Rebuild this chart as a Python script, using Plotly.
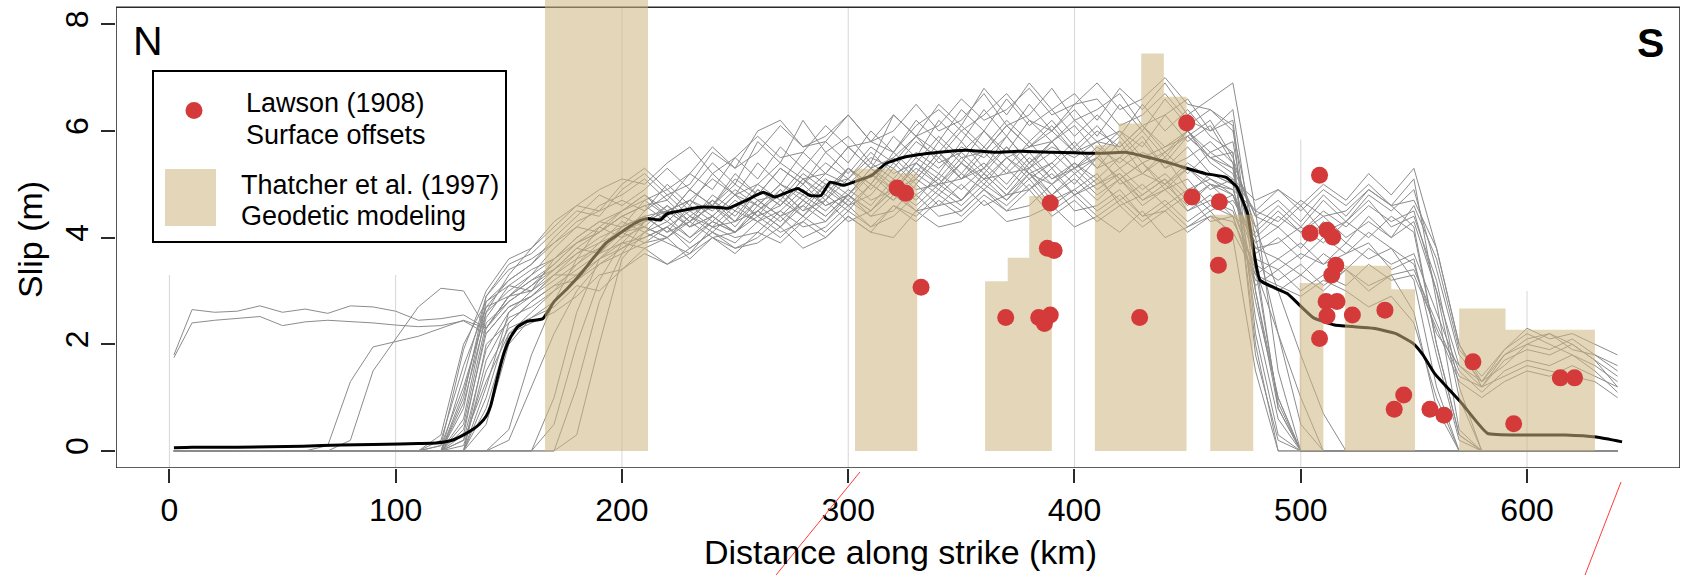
import plotly.graph_objects as go

# ---------------- data ----------------
XS = [2, 10, 20, 30, 40, 50, 60, 70, 80, 90, 100, 110, 120,
      130, 140, 150, 160, 170, 180, 190, 200, 210, 220, 230, 240, 250,
      260, 270, 280, 290, 300, 310, 320, 330, 340, 350, 360, 370, 380,
      390, 400, 410, 420, 430, 440, 450, 460, 470, 480, 490, 500, 510,
      520, 530, 540, 550, 560, 570, 580, 590, 600, 610, 620, 630, 640]

LINE_01 = [1.8, 2.65, 2.6, 2.62, 2.72, 2.6, 2.66, 2.58, 2.72, 2.7, 2.62, 2.45, 2.48,
           2.55, 2.3, 2.9, 3.2, 3.5, 3.9, 4.1, 4.4, 4.6, 4.3, 4.7, 4.5, 4.9,
           4.6, 5.0, 4.8, 5.2, 5.0, 5.4, 5.1, 5.6, 5.3, 5.7, 5.5, 5.9, 5.4,
           5.7, 5.5, 5.8, 5.3, 5.6, 5.4, 5.9, 5.5, 5.2, 3.8, 3.9, 4.2, 3.9,
           4.3, 4.0, 4.4, 4.1, 2.0, 0.3, 0, 0, 0, 0, 0, 0, 0]
LINE_02 = [1.75, 2.4, 2.45, 2.48, 2.52, 2.35, 2.42, 2.45, 2.43, 2.4, 2.36, 2.33, 2.35,
           2.44, 2.2, 2.7, 2.9, 3.3, 3.6, 3.8, 4.1, 4.2, 4.0, 4.4, 4.2, 4.6,
           4.3, 4.5, 4.9, 4.6, 4.8, 5.2, 4.9, 5.3, 5.0, 5.4, 5.1, 5.5, 5.2,
           5.0, 5.4, 5.1, 5.5, 5.2, 5.0, 5.4, 5.1, 4.8, 3.6, 3.4, 3.7, 3.5,
           3.9, 3.6, 3.8, 3.5, 2.2, 1.6, 1.3, 1.8, 2.0, 1.9, 2.1, 1.8, 1.5]
LINE_03 = [0, 0, 0, 0, 0, 0, 0, 0.1, 1.3, 1.95, 2.05, 2.15, 2.3,
           2.45, 2.3, 2.9, 3.3, 3.6, 3.9, 4.2, 4.0, 4.5, 4.8, 4.4, 4.7, 4.3,
           4.9, 4.6, 5.1, 4.7, 5.3, 5.0, 5.6, 5.2, 5.8, 5.4, 6.0, 5.6, 6.2,
           5.8, 6.1, 5.6, 6.0, 5.7, 6.3, 5.8, 6.1, 5.4, 2.5, 0.6, 0, 0,
           0, 0, 0, 0, 0, 0, 0, 0, 0, 0, 0, 0, 0]
LINE_04 = [0, 0, 0, 0, 0, 0, 0, 0, 0.2, 1.5, 2.1, 2.7, 3.05,
           3.0, 2.3, 2.8, 3.1, 3.4, 3.7, 3.9, 4.3, 4.1, 4.5, 4.2, 4.4, 4.1,
           4.5, 4.8, 4.4, 4.9, 4.6, 5.0, 4.7, 5.1, 4.8, 5.2, 4.9, 5.3, 4.9,
           5.2, 4.8, 5.1, 4.7, 5.0, 4.6, 4.9, 4.5, 4.7, 4.0, 4.4, 4.1, 4.5,
           4.2, 4.6, 4.3, 4.5, 3.0, 1.6, 1.2, 1.7, 1.9, 1.8, 2.0, 1.7, 1.2]
LINE_05 = [0, 0, 0, 0, 0, 0, 0, 0, 0, 0, 0, 0, 0.1,
           1.2, 2.6, 3.0, 3.3, 3.8, 4.2, 4.6, 4.8, 5.1, 4.7, 5.2, 4.9, 5.5,
           5.1, 5.7, 5.3, 5.8, 5.4, 6.0, 5.6, 6.2, 5.8, 6.4, 6.0, 6.6, 6.1,
           6.4, 5.9, 6.3, 5.9, 6.5, 6.0, 6.4, 5.9, 5.6, 1.8, 0.2, 0, 0,
           0, 0, 0, 0, 0, 0, 0, 0, 0, 0, 0, 0, 0]
LINE_06 = [0, 0, 0, 0, 0, 0, 0, 0, 0, 0, 0, 0, 0,
           0.4, 2.2, 2.7, 2.9, 3.2, 3.5, 3.9, 4.1, 4.3, 4.4, 4.0, 4.3, 4.1,
           4.5, 4.2, 4.6, 4.3, 4.7, 4.4, 4.8, 4.5, 4.9, 4.6, 5.0, 4.7, 5.1,
           4.6, 4.9, 4.5, 4.8, 4.4, 4.7, 4.3, 4.6, 4.4, 3.2, 3.0, 3.3, 3.0,
           3.4, 3.1, 3.3, 2.6, 0.8, 0, 0, 0, 0, 0, 0, 0, 0]
LINE_07 = [0, 0, 0, 0, 0, 0, 0, 0, 0, 0, 0, 0, 0,
           0.8, 2.8, 3.2, 3.5, 4.0, 4.4, 4.8, 4.6, 4.9, 5.3, 4.9, 5.4, 5.0,
           5.8, 5.4, 6.2, 5.6, 5.9, 5.4, 6.3, 5.9, 6.5, 6.1, 6.8, 6.3, 6.9,
           6.4, 6.7, 6.2, 6.8, 6.4, 6.9, 6.3, 6.6, 6.9, 4.5, 1.5, 0, 0,
           0, 0, 0, 0, 0, 0, 0, 0, 0, 0, 0, 0, 0]
LINE_08 = [0, 0, 0, 0, 0, 0, 0, 0, 0, 0, 0, 0, 0,
           0.2, 1.9, 2.6, 3.0, 3.3, 3.7, 4.0, 4.2, 4.4, 4.1, 4.6, 4.3, 4.7,
           4.4, 4.9, 4.5, 5.0, 4.7, 5.2, 4.8, 5.4, 5.1, 5.6, 5.2, 5.7, 5.3,
           5.6, 5.2, 5.5, 5.1, 5.4, 5.0, 5.3, 5.0, 4.8, 3.9, 4.2, 3.8, 4.3,
           3.9, 4.4, 4.0, 4.6, 3.6, 1.9, 1.4, 1.9, 2.2, 2.0, 1.8, 1.6, 1.3]
LINE_09 = [0, 0, 0, 0, 0, 0, 0, 0, 0, 0, 0, 0, 0,
           0, 1.0, 2.4, 2.8, 3.1, 3.4, 3.7, 3.9, 4.0, 4.2, 3.8, 4.1, 3.9,
           4.3, 4.0, 4.4, 4.1, 4.5, 4.2, 4.6, 4.4, 4.8, 4.5, 4.9, 4.6, 5.0,
           4.5, 4.8, 4.4, 4.7, 4.3, 4.6, 4.2, 4.5, 4.0, 1.5, 0, 0, 0,
           0, 0, 0, 0, 0, 0, 0, 0, 0, 0, 0, 0, 0]
LINE_10 = [0, 0, 0, 0, 0, 0, 0, 0, 0, 0, 0, 0, 0,
           0.9, 2.5, 3.1, 3.4, 3.6, 4.0, 4.3, 4.5, 4.7, 4.4, 4.9, 4.6, 5.1,
           4.8, 5.3, 5.0, 5.4, 5.1, 5.5, 5.3, 5.8, 5.5, 6.0, 5.6, 6.1, 5.7,
           6.0, 5.6, 6.0, 5.7, 6.1, 5.6, 5.9, 5.5, 5.3, 4.4, 4.7, 4.3, 4.8,
           4.4, 4.9, 4.6, 5.1, 2.8, 0.4, 0, 0, 0, 0, 0, 0, 0]
LINE_11 = [0, 0, 0, 0, 0, 0, 0, 0, 0, 0, 0, 0, 0.2,
           1.6, 2.7, 2.9, 3.2, 3.4, 3.8, 4.1, 4.4, 4.2, 4.6, 4.3, 4.8, 4.5,
           5.0, 4.7, 5.2, 4.9, 5.3, 4.9, 5.4, 5.0, 5.5, 5.1, 5.4, 5.0, 5.5,
           5.1, 5.4, 5.0, 5.3, 4.9, 5.2, 4.8, 5.2, 5.0, 2.8, 1.0, 0, 0,
           0, 0, 0, 0, 0, 0, 0, 0, 0, 0, 0, 0, 0]
LINE_12 = [0, 0, 0, 0, 0, 0, 0, 0, 0, 0, 0, 0, 0,
           0, 1.7, 2.5, 2.7, 3.0, 3.3, 3.6, 3.8, 4.0, 4.2, 3.9, 4.3, 4.1,
           4.5, 4.2, 4.7, 4.4, 4.8, 4.5, 5.0, 4.7, 5.2, 4.9, 5.3, 4.9, 5.4,
           5.0, 5.3, 4.9, 5.2, 4.8, 5.1, 4.7, 5.0, 4.6, 3.3, 3.6, 3.3, 3.7,
           3.4, 3.8, 3.5, 3.7, 2.6, 1.5, 1.1, 1.5, 1.7, 1.6, 1.8, 1.5, 1.1]
LINE_13 = [0, 0, 0, 0, 0, 0, 0, 0, 0, 0, 0, 0, 0,
           1.4, 2.9, 3.4, 3.6, 3.9, 4.3, 4.5, 4.7, 4.5, 5.0, 4.6, 5.2, 4.8,
           5.4, 5.0, 5.6, 5.2, 5.7, 5.3, 5.9, 5.5, 6.2, 5.8, 6.4, 5.9, 6.5,
           6.0, 6.4, 5.9, 6.5, 6.0, 6.6, 6.1, 6.4, 6.0, 4.0, 2.2, 0.5, 0,
           0, 0, 0, 0, 0, 0, 0, 0, 0, 0, 0, 0, 0]
LINE_14 = [0, 0, 0, 0, 0, 0, 0, 0, 0, 0, 0, 0, 0,
           0.5, 2.4, 2.8, 3.1, 3.5, 3.9, 4.1, 4.4, 4.6, 4.7, 4.3, 4.6, 4.2,
           4.7, 4.4, 4.8, 4.5, 4.9, 4.6, 5.1, 4.8, 5.1, 4.7, 5.2, 4.8, 5.3,
           4.8, 5.2, 4.8, 5.1, 4.7, 5.0, 4.6, 5.0, 4.9, 3.7, 4.0, 3.6, 4.0,
           3.7, 4.1, 3.8, 3.2, 1.2, 0, 0, 0, 0, 0, 0, 0, 0]
LINE_15 = [0, 0, 0, 0, 0, 0, 0, 0, 0, 0, 0, 0, 0,
           0, 0.8, 2.2, 2.6, 3.0, 3.5, 3.8, 4.2, 4.4, 4.5, 4.7, 4.4, 4.8,
           4.6, 5.0, 4.7, 5.1, 4.8, 5.3, 5.0, 5.5, 5.2, 5.8, 5.3, 5.9, 5.4,
           5.8, 5.3, 5.7, 5.4, 5.8, 5.3, 5.7, 5.2, 5.0, 4.2, 4.6, 4.2, 4.7,
           4.3, 4.8, 4.5, 4.9, 3.4, 1.8, 1.3, 1.6, 2.0, 2.2, 1.9, 1.8, 1.6]
LINE_16 = [0, 0, 0, 0, 0, 0, 0, 0, 0, 0, 0, 0, 0,
           0.1, 1.5, 2.3, 2.5, 2.8, 3.2, 3.5, 3.7, 3.9, 4.0, 3.6, 4.0, 3.7,
           4.1, 3.9, 4.3, 4.0, 4.4, 4.1, 4.6, 4.3, 4.7, 4.4, 4.8, 4.5, 4.9,
           4.4, 4.7, 4.3, 4.6, 4.2, 4.5, 4.1, 4.4, 4.3, 3.5, 3.2, 3.5, 3.1,
           3.4, 3.0, 3.3, 3.4, 2.4, 1.4, 1.2, 1.4, 1.6, 1.5, 1.4, 1.3, 1.0]
LINE_17 = [0, 0, 0, 0, 0, 0, 0, 0, 0, 0, 0, 0, 0,
           0, 0, 0, 0, 0.5, 2.0, 3.2, 3.9, 4.3, 4.6, 4.2, 4.7, 4.4,
           4.9, 4.6, 5.1, 4.8, 5.3, 5.0, 5.5, 5.1, 5.6, 5.2, 5.7, 5.3, 5.8,
           5.3, 5.7, 5.3, 5.8, 5.2, 5.6, 5.2, 5.6, 5.3, 3.0, 0.8, 0, 0,
           0, 0, 0, 0, 0, 0, 0, 0, 0, 0, 0, 0, 0]
LINE_18 = [0, 0, 0, 0, 0, 0, 0, 0, 0, 0, 0, 0, 0,
           0, 0, 0, 0, 0, 0.3, 2.0, 3.6, 4.1, 4.3, 4.0, 4.4, 4.1,
           4.6, 4.3, 4.7, 4.4, 4.8, 4.5, 4.9, 4.6, 5.0, 4.7, 5.1, 4.7, 5.2,
           4.8, 5.1, 4.7, 5.1, 4.6, 4.9, 4.5, 4.8, 4.4, 4.1, 4.5, 4.1, 4.4,
           4.0, 4.3, 4.0, 4.3, 3.0, 1.0, 0, 0, 0, 0, 0, 0, 0]
LINE_19 = [0, 0, 0, 0, 0, 0, 0, 0, 0, 0, 0, 0, 0,
           0, 0, 0.4, 1.8, 2.8, 3.6, 4.2, 4.5, 4.8, 4.4, 4.9, 4.6, 5.2,
           4.8, 5.3, 5.0, 5.6, 5.2, 5.7, 5.4, 5.9, 5.6, 6.1, 5.7, 6.2, 5.8,
           6.2, 5.7, 6.1, 5.6, 6.0, 5.5, 6.0, 5.6, 5.8, 3.4, 0.9, 0, 0,
           0, 0, 0, 0, 0, 0, 0, 0, 0, 0, 0, 0, 0]
LINE_20 = [0, 0, 0, 0, 0, 0, 0, 0, 0, 0, 0, 0, 0,
           0, 0, 0, 0, 1.0, 2.6, 3.6, 4.0, 4.2, 4.0, 4.4, 4.1, 4.5,
           4.3, 4.7, 4.4, 4.8, 4.5, 5.0, 4.7, 5.2, 4.9, 5.4, 5.0, 5.5, 5.1,
           5.4, 5.0, 5.5, 5.1, 5.4, 4.9, 5.3, 4.9, 5.1, 4.7, 4.9, 4.5, 4.9,
           4.6, 5.0, 4.6, 4.2, 2.0, 0.3, 0, 0, 0, 0, 0, 0, 0]
LINE_21 = [0, 0, 0, 0, 0, 0, 0, 0, 0, 0, 0, 0, 0,
           1.0, 2.9, 3.5, 3.7, 4.1, 4.5, 4.4, 4.9, 5.2, 4.8, 5.0, 5.6, 5.3,
           6.0, 6.2, 5.7, 5.9, 6.3, 5.8, 5.6, 6.1, 6.4, 6.0, 6.3, 6.7, 6.2,
           6.0, 6.5, 6.6, 6.1, 6.3, 6.7, 6.2, 6.0, 6.4, 3.6, 0.8, 0, 0,
           0, 0, 0, 0, 0, 0, 0, 0, 0, 0, 0, 0, 0]
LINE_22 = [0, 0, 0, 0, 0, 0, 0, 0, 0, 0, 0, 0, 0,
           0.2, 1.3, 2.2, 2.4, 2.6, 2.9, 3.3, 3.4, 3.8, 3.5, 3.7, 4.0, 3.8,
           3.9, 4.2, 3.8, 4.0, 4.4, 4.1, 4.0, 4.5, 4.2, 4.3, 4.7, 4.3, 4.4,
           4.6, 4.2, 4.4, 4.1, 4.5, 4.0, 4.2, 4.4, 4.1, 3.3, 3.1, 2.9, 3.2,
           3.0, 2.7, 2.9, 2.4, 1.0, 0, 0, 0, 0, 0, 0, 0, 0]
LINE_23 = [0, 0, 0, 0, 0, 0, 0, 0, 0, 0, 0, 0, 0.3,
           2.0, 2.8, 3.1, 3.0, 3.6, 4.0, 4.3, 4.2, 4.7, 4.9, 4.5, 4.6, 5.0,
           4.7, 4.8, 5.3, 5.0, 5.1, 5.6, 5.2, 5.4, 5.9, 5.5, 5.6, 6.1, 5.7,
           5.8, 6.2, 5.8, 5.7, 6.1, 5.7, 5.9, 6.2, 5.5, 4.2, 3.0, 1.8, 0.7,
           0, 0, 0, 0, 0, 0, 0, 0, 0, 0, 0, 0, 0]
LINE_24 = [0, 0, 0, 0, 0, 0, 0, 0, 0, 0, 0, 0, 0,
           0, 1.2, 2.6, 2.9, 3.3, 3.3, 3.7, 4.1, 3.9, 4.2, 4.5, 4.2, 4.3,
           4.7, 4.4, 4.6, 5.0, 4.6, 4.8, 5.3, 4.9, 5.0, 5.5, 5.1, 5.2, 5.6,
           5.1, 5.3, 5.6, 5.0, 5.2, 5.5, 4.9, 5.1, 4.9, 4.5, 4.3, 4.7, 4.4,
           4.5, 4.9, 4.6, 4.7, 3.8, 2.0, 1.2, 1.8, 2.1, 2.2, 2.0, 1.7, 1.4]
LINE_25 = [0, 0, 0, 0, 0, 0, 0, 0, 0, 0, 0, 0, 0,
           0, 0, 0.2, 1.2, 2.2, 3.0, 3.5, 3.8, 4.1, 3.9, 3.7, 4.2, 4.0,
           4.1, 4.5, 4.2, 4.3, 4.8, 4.4, 4.5, 5.0, 4.6, 4.7, 5.2, 4.8, 4.9,
           5.3, 4.8, 5.0, 5.2, 4.7, 4.9, 5.1, 4.6, 4.8, 3.8, 3.6, 3.9, 3.5,
           3.7, 3.9, 3.4, 3.6, 1.8, 0.2, 0, 0, 0, 0, 0, 0, 0]
LINE_26 = [0, 0, 0, 0, 0, 0, 0, 0, 0, 0, 0, 0, 0,
           0.6, 2.6, 3.3, 3.8, 4.2, 4.6, 4.9, 5.1, 5.0, 5.4, 5.7, 5.2, 5.5,
           5.9, 5.5, 5.6, 6.1, 5.7, 5.8, 6.3, 5.9, 6.1, 6.6, 6.2, 6.4, 6.8,
           6.3, 6.5, 6.9, 6.4, 6.6, 7.0, 6.5, 6.4, 6.1, 2.2, 0.3, 0, 0,
           0, 0, 0, 0, 0, 0, 0, 0, 0, 0, 0, 0, 0]
LINE_27 = [0, 0, 0, 0, 0, 0, 0, 0, 0, 0, 0, 0, 0,
           0, 2.0, 2.4, 2.8, 3.1, 3.2, 3.6, 3.9, 3.8, 4.0, 4.3, 4.0, 4.1,
           4.4, 4.1, 4.3, 4.7, 4.3, 4.5, 4.9, 4.5, 4.6, 5.0, 4.6, 4.8, 5.2,
           4.7, 4.9, 5.2, 4.6, 4.8, 5.1, 4.5, 4.7, 4.5, 3.4, 2.2, 1.0, 0,
           0, 0, 0, 0, 0, 0, 0, 0, 0, 0, 0, 0, 0]
LINE_28 = [0, 0, 0, 0, 0, 0, 0, 0, 0, 0, 0, 0, 0,
           1.1, 2.7, 3.2, 3.5, 3.9, 4.2, 4.1, 4.5, 4.8, 4.5, 4.7, 5.1, 4.8,
           5.0, 5.4, 5.1, 5.2, 5.7, 5.3, 5.5, 5.9, 5.4, 5.6, 6.0, 5.5, 5.7,
           6.1, 5.6, 5.8, 6.0, 5.5, 5.7, 6.0, 5.4, 5.1, 4.5, 4.9, 4.6, 5.0,
           4.7, 5.2, 4.8, 5.3, 3.8, 2.0, 1.3, 1.9, 2.3, 2.1, 2.2, 2.0, 1.8]
LINE_29 = [0, 0, 0, 0, 0, 0, 0, 0, 0, 0, 0, 0, 0,
           0.3, 2.3, 2.9, 3.0, 3.4, 3.8, 3.7, 4.2, 4.4, 4.1, 4.3, 4.6, 4.3,
           4.5, 4.9, 4.5, 4.7, 5.1, 4.7, 4.9, 5.4, 5.0, 5.1, 5.6, 5.2, 5.3,
           5.8, 5.3, 5.5, 5.9, 5.4, 5.6, 6.0, 5.5, 5.6, 2.0, 0, 0, 0,
           0, 0, 0, 0, 0, 0, 0, 0, 0, 0, 0, 0, 0]
LINE_30 = [0, 0, 0, 0, 0, 0, 0, 0, 0, 0, 0, 0, 0,
           0, 0, 0, 0, 0, 1.2, 2.8, 3.7, 4.3, 4.5, 4.2, 4.4, 4.8,
           4.4, 4.6, 5.0, 4.6, 4.8, 5.3, 4.9, 5.1, 5.6, 5.1, 5.3, 5.7, 5.2,
           5.4, 5.8, 5.3, 5.5, 5.9, 5.3, 5.5, 5.8, 5.4, 4.4, 4.2, 4.6, 4.1,
           4.3, 4.7, 4.2, 4.4, 3.2, 1.2, 0, 0, 0, 0, 0, 0, 0]
LINE_31 = [0, 0, 0, 0, 0, 0, 0, 0, 0, 0, 0, 0, 0,
           0, 0.5, 2.0, 2.5, 2.7, 3.1, 3.0, 3.4, 3.7, 3.5, 3.8, 4.1, 3.8,
           4.0, 4.4, 4.0, 4.2, 4.6, 4.2, 4.4, 4.8, 4.4, 4.5, 4.9, 4.5, 4.6,
           5.0, 4.5, 4.6, 4.9, 4.4, 4.5, 4.8, 4.3, 4.4, 3.1, 3.4, 3.0, 3.3,
           3.1, 3.5, 3.2, 3.3, 2.3, 1.3, 1.0, 1.3, 1.5, 1.4, 1.6, 1.4, 1.2]
LINE_32 = [0, 0, 0, 0, 0, 0, 0, 0, 0, 0, 0, 0, 0.1,
           1.9, 3.0, 3.6, 3.8, 4.3, 4.6, 4.5, 5.0, 5.3, 4.9, 5.2, 5.7, 5.3,
           5.6, 6.1, 5.7, 5.8, 6.3, 5.8, 6.0, 6.5, 6.0, 6.2, 6.7, 6.1, 6.3,
           6.8, 6.2, 6.4, 6.7, 6.1, 6.3, 6.6, 6.0, 6.2, 3.0, 1.0, 0, 0,
           0, 0, 0, 0, 0, 0, 0, 0, 0, 0, 0, 0, 0]

ENSEMBLE = [LINE_01, LINE_02, LINE_03, LINE_04, LINE_05, LINE_06, LINE_07,
            LINE_08, LINE_09, LINE_10, LINE_11, LINE_12, LINE_13, LINE_14,
            LINE_15, LINE_16, LINE_17, LINE_18, LINE_19, LINE_20, LINE_21,
            LINE_22, LINE_23, LINE_24, LINE_25, LINE_26, LINE_27, LINE_28,
            LINE_29, LINE_30, LINE_31, LINE_32]

MEAN_KM = [2, 10, 30, 59, 76, 90, 102, 110, 118, 125, 130, 134, 137, 140, 142, 144,
           146, 148, 151, 154, 158, 165, 170, 176, 182, 188, 193, 198, 203, 208,
           211.5, 217, 220, 228, 234, 241, 247, 255, 262.5, 267.6, 277.7, 283,
           288, 292, 298, 305, 310.6, 316.6, 325, 340, 352, 365, 376, 390, 400,
           411, 422.6, 434, 442, 449.6, 458, 467, 471.7, 476.5, 479, 482, 494,
           505.5, 515, 532, 542, 549.5, 554, 559, 571, 582.5, 598, 617, 630.7, 642]
MEAN_SLIP = [0.06, 0.07, 0.07, 0.09, 0.11, 0.12, 0.13, 0.14, 0.15, 0.2, 0.3, 0.4, 0.5,
             0.65, 0.85, 1.2, 1.55, 1.85, 2.15, 2.33, 2.43, 2.48, 2.8, 3.05, 3.33,
             3.65, 3.9, 4.05, 4.2, 4.32, 4.36, 4.33, 4.45, 4.52, 4.57, 4.57, 4.55,
             4.7, 4.85, 4.76, 4.92, 4.79, 4.79, 5.04, 4.98, 5.08, 5.17, 5.39, 5.51,
             5.6, 5.64, 5.6, 5.62, 5.6, 5.59, 5.58, 5.6, 5.49, 5.4, 5.3, 5.2, 5.13,
             4.95, 4.45, 3.8, 3.2, 2.95, 2.5, 2.36, 2.3, 2.2, 2.02, 1.8, 1.46, 0.9,
             0.33, 0.3, 0.3, 0.26, 0.17]

BAR_LEFT = [166, 303, 321, 360.5, 370.5, 380, 409, 419.5, 429.5, 439.5,
            460, 499.5, 519.5, 540, 570, 590.5]
BAR_RIGHT = [211.5, 321, 330.5, 370.5, 380, 390, 419.5, 429.5, 439.5, 449.5,
             479, 510, 540, 550.5, 590.5, 630]
BAR_SLIP = [8.6, 5.29, 5.2, 3.18, 3.62, 4.78, 5.73, 6.14, 7.45, 6.64,
            4.43, 3.15, 3.47, 3.03, 2.67, 2.27]

LAWSON_KM = [321.6, 325.4, 332.2, 369.6, 384.2, 386.7, 389.3, 389.3, 388.0, 391.0,
             428.8, 449.6, 451.9, 464.0, 466.6, 463.6, 508.3, 504.1, 511.6, 514.1,
             515.5, 513.7, 511.2, 516.0, 511.6, 522.8, 508.3, 537.2, 545.5, 541.3,
             557.1, 563.3, 576.1, 594.1, 614.7, 621.0]
LAWSON_SLIP = [4.93, 4.83, 3.07, 2.5, 2.5, 2.39, 2.55, 4.65, 3.80, 3.76,
               2.5, 6.15, 4.76, 4.67, 4.04, 3.48, 5.17, 4.08, 4.14, 4.01,
               3.48, 3.30, 2.80, 2.80, 2.53, 2.55, 2.11, 2.64, 1.05, 0.78,
               0.78, 0.67, 1.67, 0.51, 1.37, 1.37]

X_TICKS = [0, 100, 200, 300, 400, 500, 600]
Y_TICKS = [0, 2, 4, 6, 8]

# ---------------- styling / layout ----------------
FONT = "Liberation Sans, Arial, Helvetica, sans-serif"
GRAY = "rgb(140,140,140)"
BAR_FILL = "rgba(205,180,125,0.55)"
RED = "#D43A3A"
W, H = 1684, 575
PL, PR, PT, PB = 116, 1680, 0, 468
XR = [-23.6, 667.6]
YR = [-0.32, 8.455]
FRAME_TOP = 8.32
GRID_TOP = [3.3, 3.3, FRAME_TOP, FRAME_TOP, FRAME_TOP, 5.84, 3.0]


def px(x):
    return (x - PL) / (PR - PL)


def py(y):
    return 1 - (y - PT) / (PB - PT)


fig = go.Figure()

for ln in ENSEMBLE:
    fig.add_trace(go.Scatter(x=XS, y=ln, mode="lines",
                             line=dict(color=GRAY, width=1),
                             hoverinfo="skip", showlegend=False))

fig.add_trace(go.Scatter(x=MEAN_KM, y=MEAN_SLIP, mode="lines",
                         line=dict(color="black", width=3, shape="spline", smoothing=0.4),
                         hoverinfo="skip", showlegend=False))

# Geodetic bars as stepped polygons (contiguous bars merged)
groups = []
for l, r, s in zip(BAR_LEFT, BAR_RIGHT, BAR_SLIP):
    if groups and abs(groups[-1][-1][1] - l) < 1e-9:
        groups[-1].append((l, r, s))
    else:
        groups.append([(l, r, s)])
for g in groups:
    gx = [g[0][0]]
    gy = [0]
    for l, r, s in g:
        gx += [l, r]
        gy += [s, s]
    gx.append(g[-1][1])
    gy.append(0)
    fig.add_trace(go.Scatter(x=gx, y=gy, mode="lines", fill="toself",
                             fillcolor=BAR_FILL, line=dict(width=0),
                             hoverinfo="skip", showlegend=False))

fig.add_trace(go.Scatter(x=LAWSON_KM, y=LAWSON_SLIP, mode="markers",
                         marker=dict(size=17, color=RED, line=dict(width=0)),
                         hoverinfo="skip", showlegend=False))

shapes = []
# partial vertical grid lines
for xv, top in zip(X_TICKS, GRID_TOP):
    shapes.append(dict(type="line", xref="x", yref="y", x0=xv, x1=xv,
                       y0=YR[0], y1=top, layer="below",
                       line=dict(color="#D6D6D6", width=1)))
# plot frame
shapes.append(dict(type="rect", xref="x", yref="y", x0=XR[0], x1=XR[1],
                   y0=YR[0], y1=FRAME_TOP, layer="below",
                   line=dict(color="#2A2A2A", width=1.6)))
# legend box
shapes.append(dict(type="rect", xref="paper", yref="paper",
                   x0=px(153), x1=px(506), y0=py(242), y1=py(71),
                   fillcolor="white", line=dict(color="black", width=2)))
shapes.append(dict(type="circle", xref="paper", yref="paper",
                   x0=px(185.5), x1=px(202.5), y0=py(119), y1=py(102),
                   fillcolor=RED, line=dict(width=0)))
shapes.append(dict(type="rect", xref="paper", yref="paper",
                   x0=px(165), x1=px(216), y0=py(226), y1=py(169),
                   fillcolor=BAR_FILL, line=dict(width=0)))
# red slanted marks outside the frame
shapes.append(dict(type="line", xref="paper", yref="paper",
                   x0=px(776), y0=py(575), x1=px(860), y1=py(472),
                   line=dict(color="#FF3B3B", width=1)))
shapes.append(dict(type="line", xref="paper", yref="paper",
                   x0=px(1585), y0=py(575), x1=px(1621), y1=py(482),
                   line=dict(color="#FF3B3B", width=1)))

ann = []


def text(t, x, y, size, xanchor="left", angle=0):
    ann.append(dict(text=t, x=px(x), y=py(y), xref="paper", yref="paper",
                    xanchor=xanchor, yanchor="middle", showarrow=False,
                    textangle=angle, font=dict(family=FONT, size=size, color="black")))


text("Lawson (1908)", 244, 103, 27)
text("Surface offsets", 244, 135, 27)
text("Thatcher et al. (1997)", 239, 185, 27)
text("Geodetic modeling", 239, 216, 27)
text("N", 148, 41, 41, "center")
text("<b>S</b>", 1650.5, 43, 41, "center")
text("Distance along strike (km)", 900, 552, 34, "center")
text("Slip (m)", 30, 240, 34, "center", -90)

fig.update_layout(
    width=W, height=H,
    margin=dict(l=PL, r=W - PR, t=PT, b=H - PB, pad=0),
    paper_bgcolor="white", plot_bgcolor="white",
    showlegend=False,
    shapes=shapes, annotations=ann,
    font=dict(family=FONT, color="black"),
    xaxis=dict(range=XR, tickvals=X_TICKS, ticks="outside", ticklen=14,
               tickwidth=1.5, tickcolor="#2A2A2A", showgrid=False,
               zeroline=False, showline=False,
               tickfont=dict(family=FONT, size=32, color="black")),
    yaxis=dict(range=YR, tickvals=Y_TICKS, ticks="outside", ticklen=14,
               tickwidth=1.5, tickcolor="#2A2A2A", showgrid=False,
               zeroline=False, showline=False, tickangle=-90,
               tickfont=dict(family=FONT, size=32, color="black")),
)

fig.write_html("out.html")
